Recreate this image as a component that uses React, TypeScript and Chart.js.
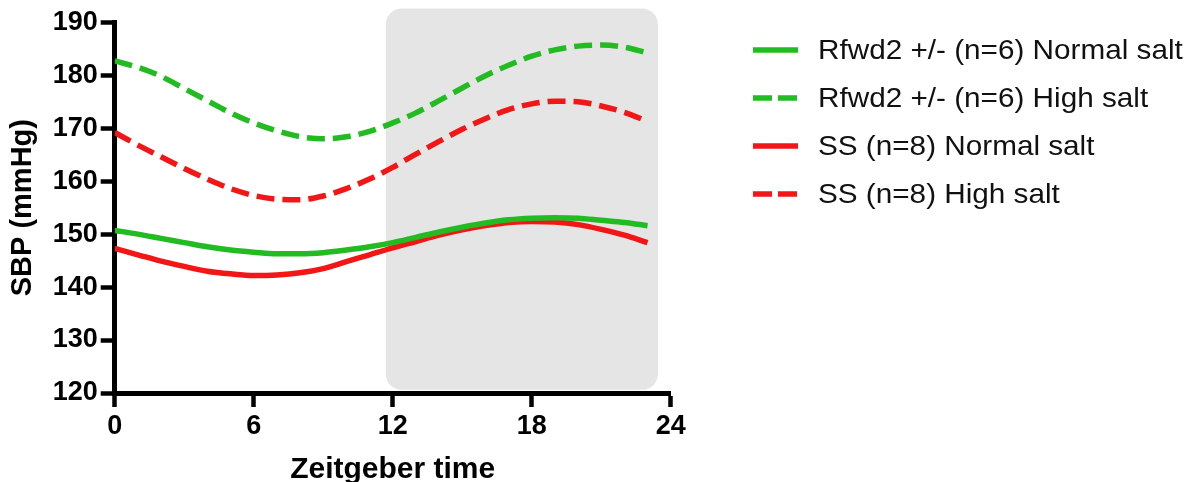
import React, { useEffect, useRef } from "react";
import { Chart, registerables } from "chart.js";

Chart.register(...registerables);

// ---- data ----
const HOURS = [0, 1, 2, 3, 4, 5, 6, 7, 8, 9, 10, 11, 12, 13, 14, 15, 16, 17, 18, 19, 20, 21, 22, 23];
const RFWD2_NORMAL = [150.7, 150.0, 149.2, 148.4, 147.6, 147.0, 146.6, 146.3, 146.3, 146.5, 147.0, 147.6, 148.4, 149.4, 150.4, 151.3, 152.1, 152.7, 153.0, 153.1, 153.0, 152.6, 152.2, 151.6];
const RFWD2_HIGH = [182.7, 181.5, 179.8, 177.5, 175.2, 172.9, 171.0, 169.5, 168.4, 168.0, 168.4, 169.4, 171.0, 172.9, 175.2, 177.6, 179.9, 181.9, 183.6, 184.8, 185.5, 185.7, 185.3, 184.2];
const SS_NORMAL = [147.3, 146.1, 144.9, 143.9, 143.0, 142.5, 142.2, 142.3, 142.7, 143.5, 144.8, 146.1, 147.4, 148.6, 149.8, 150.8, 151.6, 152.2, 152.4, 152.3, 151.8, 150.9, 149.8, 148.4];
const SS_HIGH = [169.2, 166.8, 164.6, 162.4, 160.4, 158.6, 157.3, 156.6, 156.5, 157.2, 158.6, 160.4, 162.6, 165.1, 167.5, 169.8, 171.8, 173.5, 174.6, 175.1, 175.0, 174.2, 173.0, 171.3];
const SERIES_LABELS = [
  "Rfwd2 +/- (n=6) Normal salt",
  "Rfwd2 +/- (n=6) High salt",
  "SS (n=8) Normal salt",
  "SS (n=8) High salt",
];
const X_TICKS = [0, 6, 12, 18, 24];
const Y_TICKS = [120, 130, 140, 150, 160, 170, 180, 190];
const X_TITLE = "Zeitgeber time";
const Y_TITLE = "SBP (mmHg)";
// dark-phase shading (data units)
const SHADE_X = [11.7, 23.45];
const SHADE_Y = [120.6, 192.6];

// ---- styles ----
const GREEN = "#22bb22";
const RED = "#f21616";
const FONT = "'Liberation Sans', Arial, Helvetica, sans-serif";
const DASH = [18, 8];
const W = 1187;
const H = 482;

const SERIES = [
  { label: SERIES_LABELS[0], data: RFWD2_NORMAL, color: GREEN, dash: [] as number[] },
  { label: SERIES_LABELS[1], data: RFWD2_HIGH, color: GREEN, dash: DASH },
  { label: SERIES_LABELS[2], data: SS_NORMAL, color: RED, dash: [] as number[] },
  { label: SERIES_LABELS[3], data: SS_HIGH, color: RED, dash: DASH },
];

const shadePlugin = {
  id: "shade",
  beforeDraw(chart: any) {
    const { ctx, scales } = chart;
    const x = scales.x;
    const y = scales.y;
    const l = x.getPixelForValue(SHADE_X[0]);
    const r = x.getPixelForValue(SHADE_X[1]);
    const t = y.getPixelForValue(SHADE_Y[1]);
    const b = y.getPixelForValue(SHADE_Y[0]);
    ctx.save();
    ctx.fillStyle = "#e5e5e5";
    ctx.beginPath();
    (ctx as any).roundRect(l, t, r - l, b - t, 16);
    ctx.fill();
    ctx.restore();
  },
};

export default function App() {
  const ref = useRef<HTMLCanvasElement | null>(null);

  useEffect(() => {
    if (!ref.current) return;
    const chart = new Chart(ref.current, {
      type: "line",
      data: {
        datasets: SERIES.map((s) => ({
          label: s.label,
          data: HOURS.map((h, i) => ({ x: h, y: s.data[i] })),
          borderColor: s.color,
          backgroundColor: s.color,
          borderWidth: 5.5,
          borderDash: s.dash,
          borderCapStyle: "butt" as const,
          pointRadius: 0,
          cubicInterpolationMode: "monotone" as const,
          fill: false,
        })),
      },
      options: {
        animation: false,
        responsive: false,
        devicePixelRatio: 1,
        layout: { padding: { top: 22.3, right: W - 670.7, left: 0, bottom: 0 } },
        plugins: { legend: { display: false }, tooltip: { enabled: false } },
        scales: {
          x: {
            type: "linear",
            min: 0,
            max: 24,
            afterBuildTicks: (axis: any) => {
              axis.ticks = X_TICKS.map((v) => ({ value: v }));
            },
            afterFit: (s: any) => {
              s.height = H - 393;
            },
            grid: { drawOnChartArea: false, drawTicks: true, tickLength: 14, tickWidth: 4.5, tickColor: "#000" },
            border: { display: true, color: "#000", width: 5 },
            ticks: {
              color: "#000",
              font: { family: FONT, size: 27, weight: "bold" },
              padding: 3,
              maxRotation: 0,
              autoSkip: false,
            },
            title: {
              display: true,
              text: X_TITLE,
              color: "#000",
              font: { family: FONT, size: 30, weight: "bold", lineHeight: 1 },
              padding: { top: 0, bottom: -3 },
            },
          },
          y: {
            type: "linear",
            min: 120,
            max: 190,
            afterBuildTicks: (axis: any) => {
              axis.ticks = Y_TICKS.map((v) => ({ value: v }));
            },
            afterFit: (s: any) => {
              s.width = 114.7;
            },
            grid: { drawOnChartArea: false, drawTicks: true, tickLength: 14, tickWidth: 4.5, tickColor: "#000" },
            border: { display: true, color: "#000", width: 5 },
            ticks: {
              color: "#000",
              font: { family: FONT, size: 27, weight: "bold" },
              padding: 3,
              autoSkip: false,
            },
            title: {
              display: true,
              text: Y_TITLE,
              color: "#000",
              font: { family: FONT, size: 29, weight: "bold", lineHeight: 1.4 },
              padding: { top: 3, bottom: 0 },
            },
          },
        },
      },
      plugins: [shadePlugin],
    } as any);
    return () => chart.destroy();
  }, []);

  const rowTop = 50;
  const rowGap = 48;

  return (
    <div style={{ position: "fixed", left: 0, top: 0, width: W, height: H, background: "#fff", overflow: "hidden" }}>
      <canvas ref={ref} width={W} height={H} style={{ position: "absolute", left: 0, top: 0, width: W, height: H }} />
      {SERIES.map((s, i) => (
        <div
          key={s.label}
          style={{
            position: "absolute",
            left: 753,
            top: rowTop + i * rowGap - 14,
            height: 28,
            display: "flex",
            alignItems: "center",
            whiteSpace: "nowrap",
          }}
        >
          <svg width={45} height={28} style={{ display: "block" }}>
            <line
              x1={0}
              y1={14}
              x2={45}
              y2={14}
              stroke={s.color}
              strokeWidth={5.5}
              strokeDasharray={s.dash.length ? "19 6" : undefined}
            />
          </svg>
          <span
            style={{
              marginLeft: 20,
              fontFamily: FONT,
              fontSize: 27.5,
              lineHeight: "28px",
              color: "#111",
              display: "inline-block",
              transform: "scaleX(1.08)",
              transformOrigin: "left center",
            }}
          >
            {s.label}
          </span>
        </div>
      ))}
    </div>
  );
}
